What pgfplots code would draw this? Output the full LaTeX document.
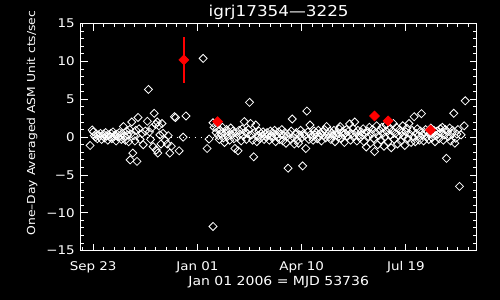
\documentclass[border=0pt]{standalone}
\usepackage{fontspec}
\setmainfont{DejaVu Sans}[FakeStretch=1.12]
\usepackage{pgfplots}
\pgfplotsset{compat=1.18}
\begin{document}
\begin{tikzpicture}
\useasboundingbox (-80.7bp,-49.3bp) rectangle (419.3bp,250.7bp);
\fill[black] (-80.7bp,-49.3bp) rectangle (419.3bp,250.7bp);
\begin{axis}[
  at={(0,0)}, anchor=south west,
  scale only axis, width=396bp, height=227.1bp,
  xmin=-112, xmax=268, ymin=-15, ymax=15,
  axis line style={white, line width=1bp},
  every tick/.style={white, line width=1bp},
  major tick length=7bp, minor tick length=3.5bp,
  xtick={-100,0,100,200}, xticklabels={Sep 23,Jan 01,Apr 10,Jul 19},
  minor xtick={-110,-100,...,260},
  ytick={-15,-10,...,15}, yticklabels={−15,−10,−5,0,5,10,15},
  minor ytick={-15,-14,...,15},
  xticklabel style={font=\fontsize{12bp}{14bp}\selectfont, text=white, anchor=base, yshift=-19.3bp},
  yticklabel style={font=\fontsize{12bp}{14bp}\selectfont, text=white, anchor=east, inner sep=0pt, xshift=-5.7bp},
  title={igrj17354—3225},
  title style={font=\fontsize{15bp}{18bp}\selectfont, text=white, at={(axis description cs:0.5,1)}, anchor=base, yshift=1.6bp},
  xlabel={Jan 01 2006 = MJD 53736},
  xlabel style={font=\fontsize{12.5bp}{15bp}\selectfont, text=white, at={(axis description cs:0.5,0)}, anchor=base, yshift=-34.3bp},
  ylabel={One–Day Averaged ASM Unit cts/sec},
  ylabel style={font=\fontsize{11bp}{13bp}\selectfont, text=white, at={(axis description cs:-0.123,0.562)}, anchor=center},
]
\addplot[white, line width=0.9bp, dash pattern=on 1bp off 5bp] coordinates {(-112,0) (268,0)};
\addplot[only marks, mark=square, mark size=2.85bp, mark options={rotate=45, draw=white, line width=0.8bp}] coordinates {
(-103,-1.1) (-101,0.95) (-100,0.7) (-99,0.2) (-98,0.0) (-97,0.4) (-96,-0.2) (-95,0.3) (-94,0.1) (-93,0.5)
(-92,-0.3) (-91,0.2) (-90,0.4) (-89,-0.1) (-88,0.6) (-87,0.2) (-86,-0.4) (-85,0.3) (-84,0.0) (-83,0.5)
(-82,-0.2) (-81,0.7) (-80,0.1) (-79,0.3) (-78,-0.5) (-77,0.4) (-76,0.0) (-75,0.6) (-74,0.2) (-73,-0.3)
(-72,0.5) (-71,1.4) (-70,0.1) (-69,-0.4) (-68,0.8) (-67,0.3) (-66,-0.6) (-65,1.0) (-64,0.4)
(-64.5,-3.0) (-63,2.0) (-62,-2.1) (-61,0.2) (-60,-0.5) (-59,0.9) (-58,-3.2) (-57,2.6) (-56,1.1) (-55,-0.3)
(-53,0.5) (-52,-1.0) (-50,0.8) (-48,2.1) (-47,6.3) (-46,0.7) (-45,-0.3) (-44,1.2) (-42.5,-1.25) (-41.5,3.15)
(-40,1.7) (-39.5,-1.7) (-38.5,2.0) (-38,-2.1) (-37,1.5) (-36,0.3) (-35,-0.9) (-34,1.8) (-33,0.5) (-31,-0.4)
(-29,-0.9) (-28,0.2) (-26.5,-2.1) (-25,-1.2) (-22,2.7) (-21,2.6) (-17.5,-1.8) (-13.7,0.0) (-11,2.8)
(5.5,10.4) (9.3,-1.5) (11.2,-0.25) (15,-11.8) (15,1.9) (16,1.3)
(18,0.6) (19,1.1) (20,0.2) (21,-0.3) (22,0.9) (23,0.4) (24,1.3) (25,-0.1) (26,-0.7) (27,0.5)
(28,1.0) (29,0.1) (30,0.7) (31,-0.4) (32,1.2) (33,0.3) (34,0.8) (35,-0.2) (36,-1.5) (37,0.6)
(38,0.0) (39,-1.8) (40,0.9) (41,0.4) (42,-0.5) (43,1.1) (44,0.2) (45,2.05) (46,0.7) (47,-0.3)
(48,0.5) (49,1.0) (50,4.6) (51,1.8) (52,0.3) (53,-0.4) (54,-2.6) (55,0.6) (56,1.6) (57,-0.6)
(58,0.2) (59,0.8) (60,-0.2) (61,0.5) (62,0.1) (63,0.7) (64,-0.3) (65,0.4) (66,0.0) (67,0.6)
(68,0.3) (69,-0.4) (70,0.8) (71,0.2) (72,-0.1) (73,0.5) (74,0.9) (75,-0.6) (76,0.3) (77,0.0)
(78,0.7) (79,-0.3) (80,0.4) (81,1.0) (82,-0.5) (83,0.2) (84,0.6) (85,-0.8) (86,0.1) (87,-4.1)
(88,0.5) (89,-0.2) (90,0.8) (91,2.4) (92,0.0) (93,-0.9) (94,0.4) (95,0.6) (96,-0.4) (97,-0.8)
(98,0.3) (99,0.9) (100,-0.1) (101,-3.8) (102,0.5) (103,0.2) (104,-1.5) (105,3.45) (106,0.7) (107,-0.3)
(108,1.6) (109,0.4) (110,0.0) (111,-0.4) (112,0.8) (113,0.3) (114,0.6) (115,-0.2) (116,0.9) (117,0.1)
(118,0.5) (119,-0.5) (120,0.7) (121,0.2) (122,1.0) (123,-0.1) (124,1.4) (125,0.4) (126,0.0) (127,0.8)
(128,-0.3) (129,0.5) (130,0.2) (131,0.9) (132,-0.6) (133,0.3) (134,0.6) (135,0.0) (136,1.1) (137,1.4)
(138,-0.2) (139,0.7) (140,0.3) (141,-0.7) (142,0.5) (143,1.0) (144,0.1) (145,0.8) (146,1.75) (147,-0.4)
(148,0.4) (149,1.2) (150,0.0) (151,2.0) (152,0.6) (153,-0.5) (154,0.9) (155,0.2) (156,-0.1) (157,0.7)
(158,0.3) (159,1.1) (160,-0.6) (161,0.5) (162,-1.3) (163,0.8) (164,0.1) (165,1.3) (166,-0.8) (167,0.4)
(168,1.0) (169,-0.2) (170,-1.9) (171,0.6) (172,1.5) (173,-1.0) (174,0.2) (175,0.9) (176,-0.4) (177,1.3)
(178,0.5) (179,-1.2) (180,0.0) (181,1.6) (182,0.7) (183,-0.6) (184,1.1) (185,0.3) (186,-1.4) (187,0.8)
(188,1.8) (189,-0.3) (190,0.5) (191,1.3) (192,-0.9) (193,0.2) (194,1.0) (195,-0.5) (196,0.6) (197,1.5)
(198,0.1) (199,-1.1) (200,0.7) (201,1.2) (202,-0.2) (203,1.8) (204,0.4) (205,-0.7) (206,0.9) (207,0.0)
(208,2.7) (209,-0.6) (210,0.5) (211,1.1) (212,0.2) (213,-0.4) (214,0.8) (215,3.1) (216,0.3) (217,-0.5)
(218,0.6) (219,1.0) (220,0.0) (221,0.7) (222,-0.3) (223,0.4) (224,1.2) (225,-0.1) (226,0.5) (227,0.9)
(228,-0.6) (229,0.2) (230,0.8) (231,0.4) (232,-0.2) (233,1.1) (234,0.6) (235,1.3) (236,-0.4) (237,0.3)
(238,1.0) (239,-2.8) (240,0.7) (241,0.1) (242,1.2) (243,-0.5) (244,0.5) (245,0.9) (246,3.15) (247,-0.8)
(248,-0.15) (249,0.4) (250,1.0) (251.5,-6.5) (253,0.3) (256,1.5) (257,4.8)
};
\addplot[only marks, red, mark=square*, mark size=3.6bp, mark options={rotate=45, fill=red, draw=red},
  error bars/.cd, y dir=both, y explicit, error mark=none, error bar style={red, line width=2.5bp}]
  coordinates {(-13,10.2) +- (0,3.0) (19.3,2.05) +- (0,0.3) (170,2.8) +- (0,0.3) (183,2.14) +- (0,0.3) (223.7,0.95) +- (0,0.3)};
\end{axis}
\end{tikzpicture}
\end{document}
